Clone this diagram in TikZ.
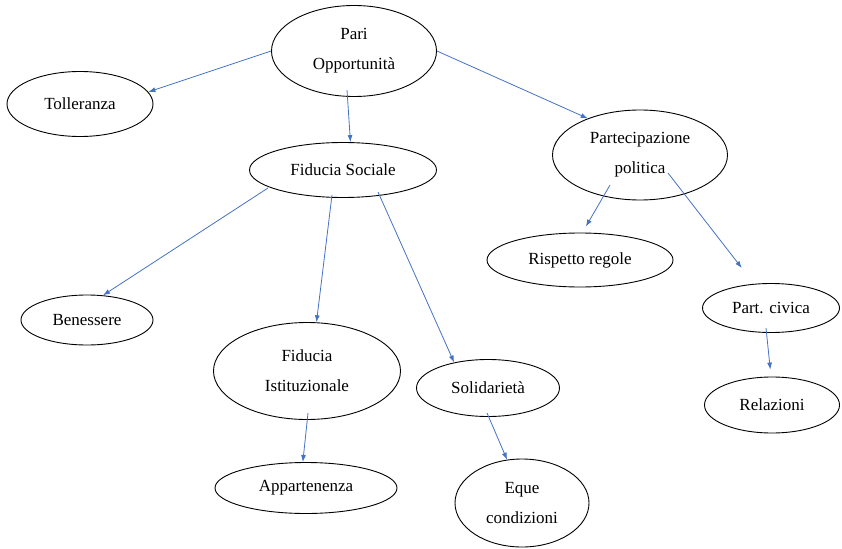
\documentclass[tikz,border=0pt]{standalone}
\usepackage{fontspec}
\setmainfont{Liberation Serif}
\usetikzlibrary{shapes.geometric,arrows.meta}
\definecolor{linkblue}{RGB}{68,114,196}

\begin{document}
\begin{tikzpicture}[x=1pt, y=-1pt,
    bubble/.style 2 args={ellipse, draw, line width=0.9pt, inner sep=0pt,
      minimum width=#1, minimum height=#2, align=center,
      font=\fontsize{17}{30}\selectfont},
    link/.style={linkblue, line width=0.8pt, -{Latex[length=7pt,width=5pt]}}]

    \useasboundingbox (0,0) rectangle (842,548);

    \node[bubble={165pt}{91pt}] (pari) at (354,51) {Pari\\Opportunità};
    \node[bubble={146pt}{65pt}] (toll) at (80,104) {Tolleranza};
    \node[bubble={187pt}{55pt}] (fs) at (343,170) {Fiducia Sociale};
    \node[bubble={175pt}{90pt}] (part) at (640,155) {Partecipazione\\politica};
    \node[bubble={186pt}{54pt}] (risp) at (580,260) {Rispetto regole};
    \node[bubble={132pt}{50pt}] (ben) at (87,320) {Benessere};
    \node[bubble={187pt}{97pt}] (fi) at (307,371) {Fiducia\\Istituzionale};
    \node[bubble={143pt}{57pt}] (sol) at (488,388) {Solidarietà};
    \node[bubble={137pt}{49pt}] (civ) at (771,308) {Part. civica};
    \node[bubble={135pt}{56pt}] (rel) at (772,405) {Relazioni};
    \node[bubble={182pt}{51pt}] (app) at (306,488) {Appartenenza};
    \node[bubble={134pt}{88pt}] (eque) at (522,503) {Eque\\condizioni};

    \draw[link] (pari.west) -- (toll.10);
    \draw[link] ([shift={(-7,39)}]pari.center) -- (fs.75);
    \draw[link] (pari.east) -- (part.145);

    \draw[link] ([shift={(-75,18)}]fs.center) -- (ben.57);
    \draw[link] ([shift={(-11,25)}]fs.center) -- (fi.79);
    \draw[link] ([shift={(35,22)}]fs.center) -- (sol.143);

    \draw[link, shorten >=7pt] ([shift={(-30,30)}]part.center) -- (risp.85);
    \draw[link, shorten >=20pt] ([shift={(28,18)}]part.center) -- (civ.125);
    \draw[link, shorten >=7pt] ([shift={(-5,20)}]civ.center) -- (rel.92);

    \draw[link] ([shift={(1,42)}]fi.center) -- (app.97);
    \draw[link] ([shift={(-1,25)}]sol.center) -- (eque.109);

\end{tikzpicture}
\end{document}
